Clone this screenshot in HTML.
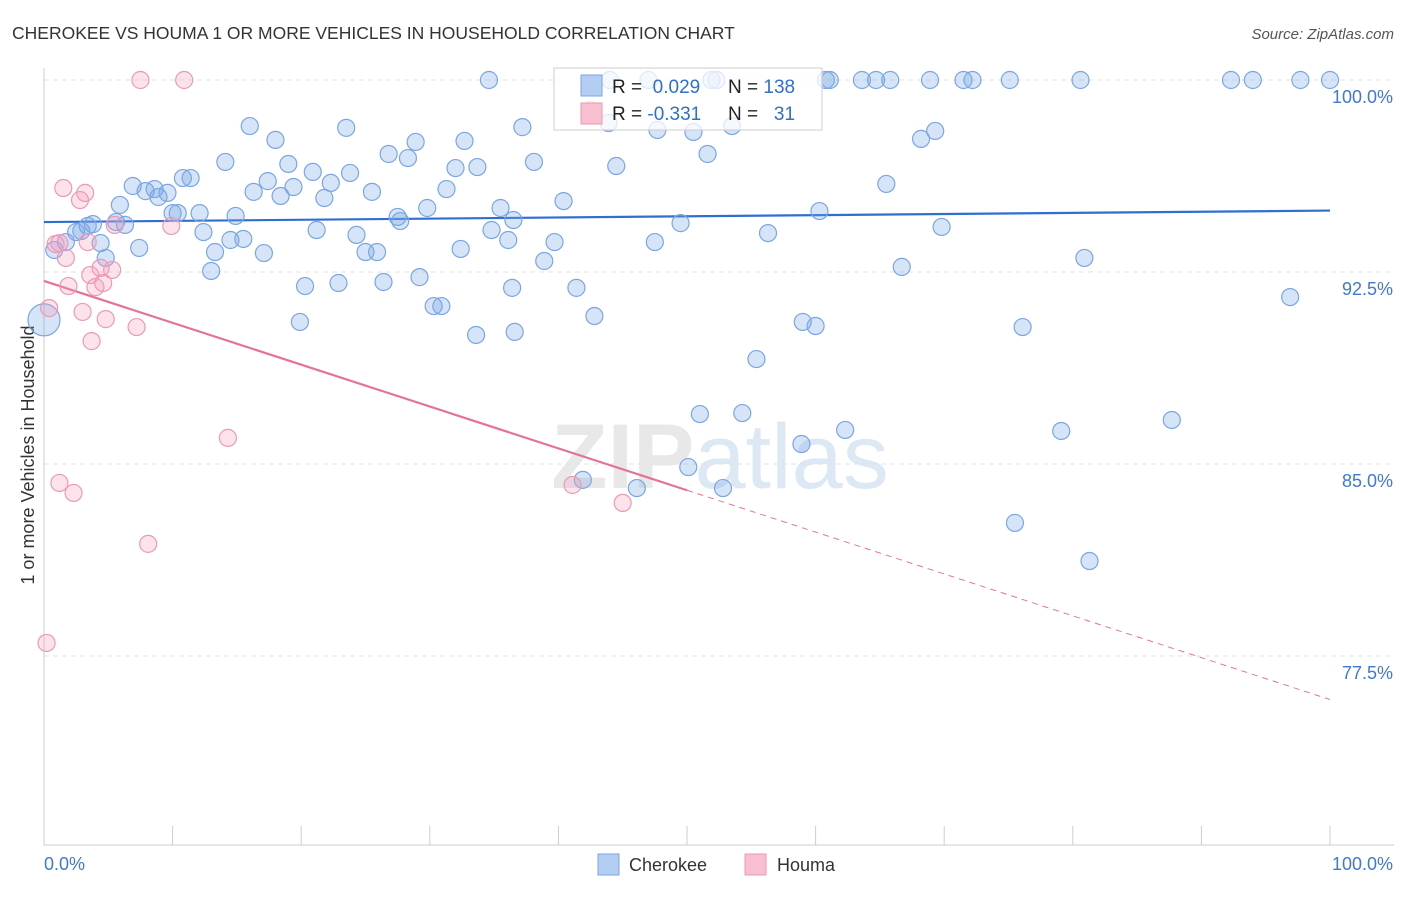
<!DOCTYPE html>
<html><head><meta charset="utf-8"><style>
body{margin:0;background:#fff;font-family:"Liberation Sans",sans-serif}
svg text{font-family:"Liberation Sans",sans-serif}
</style></head><body>
<svg id="chart" width="1406" height="892" xmlns="http://www.w3.org/2000/svg">
<text x="12" y="39" font-size="17.5" fill="#333">CHEROKEE VS HOUMA 1 OR MORE VEHICLES IN HOUSEHOLD CORRELATION CHART</text>
<text x="1394" y="39" font-size="15" fill="#555" font-style="italic" text-anchor="end">Source: ZipAtlas.com</text>
<text x="720" y="488" font-size="92" fill="#e8e8e8" text-anchor="middle" font-family="Liberation Serif" font-weight="bold">ZIP<tspan fill="#dde8f5" font-family="Liberation Sans" font-weight="normal">atlas</tspan></text>
<text transform="translate(34,455) rotate(-90)" font-size="18" fill="#333" text-anchor="middle">1 or more Vehicles in Household</text>
<g id="grid"></g><g id="axes"></g><g id="trend"></g><g id="pts"></g>
<g>
<rect x="554" y="68" width="268" height="62" fill="rgba(255,255,255,0.75)" stroke="#ccc"/>
<rect x="581" y="75" width="21" height="21" fill="#b4cdf2" stroke="#7aa6e3"/>
<rect x="581" y="103" width="21" height="21" fill="#f7bfd0" stroke="#eb9ab5"/>
<text x="612" y="93" font-size="19" fill="#222">R = <tspan fill="#2f6fd0">&#160;0.029</tspan><tspan x="728">N = </tspan><tspan fill="#2f6fd0">138</tspan></text>
<text x="612" y="120" font-size="19" fill="#222">R = <tspan fill="#2f6fd0">-0.331</tspan><tspan x="728">N = </tspan><tspan fill="#2f6fd0">&#160;&#160;31</tspan></text>
</g>
<g>
<rect x="598" y="854" width="21" height="21" fill="#b4cdf2" stroke="#7aa6e3"/>
<text x="629" y="871" font-size="18" fill="#333">Cherokee</text>
<rect x="745" y="854" width="21" height="21" fill="#f7bfd0" stroke="#eb9ab5"/>
<text x="777" y="871" font-size="18" fill="#333">Houma</text>
</g>
</svg>
<script>
const yTicks=[100,92.5,85,77.5];
const yTickLabels=["100.0%","92.5%","85.0%","77.5%"];
const blueX=[34.6,44.0,47.0,52.3,51.9,60.8,61.1,63.6,64.7,65.8,68.9,71.5,72.2,75.1,80.6,92.3,94.0,97.7,100,
16.0,23.5,37.2,18.0,28.9,32.7,47.7,50.5,43.9,53.5,69.3,68.2,14.1,19.0,20.9,23.8,26.8,28.3,32.0,33.7,38.1,44.5,51.6,
6.9,7.9,8.6,9.6,10.8,11.4,16.3,17.4,18.4,19.4,21.8,22.3,25.5,31.3,40.4,65.5,5.9,8.9,10.0,10.4,12.1,14.9,29.8,35.5,36.5,27.7,27.5,60.3,49.5,3.4,3.8,5.6,6.3,
12.4,14.5,15.5,21.2,24.3,34.8,36.1,39.7,47.5,56.3,69.8,4.4,7.4,13.3,17.1,25.0,25.9,32.4,38.9,4.8,80.9,
13.0,20.3,22.9,26.4,29.2,36.4,41.4,66.7,19.9,30.3,30.9,33.6,36.6,42.8,59.0,60.0,76.1,96.9,55.4,
51.0,54.3,87.7,62.3,58.9,79.1,50.1,41.9,46.1,52.8,75.5,81.3,0.8,1.7,2.5,2.9,0.0];
const blueY=[100,100,100,100,100,100,100,100,100,100,100,100,100,100,100,100,100,100,100,
98.20,98.13,98.16,97.66,97.58,97.62,98.05,97.97,98.32,98.20,98.01,97.70,96.80,96.72,96.41,96.37,97.11,96.95,96.56,96.60,96.80,96.64,97.11,
95.86,95.66,95.74,95.59,96.17,96.17,95.63,96.05,95.47,95.82,95.39,95.98,95.63,95.74,95.27,95.94,95.12,95.43,94.80,94.80,94.80,94.69,95.00,95.00,94.53,94.49,94.65,94.88,94.41,94.30,94.37,94.45,94.34,
94.06,93.75,93.79,94.14,93.95,94.14,93.75,93.67,93.67,94.02,94.26,93.63,93.44,93.28,93.24,93.28,93.28,93.40,92.93,93.05,93.05,
92.54,91.95,92.07,92.11,92.30,91.88,91.88,92.70,90.55,91.17,91.17,90.04,90.16,90.78,90.55,90.39,90.35,91.52,89.10,
86.95,86.99,86.72,86.33,85.78,86.29,84.88,84.38,84.06,84.06,82.70,81.21,93.36,93.67,94.06,94.10,90.63];
const pinkX=[7.5,10.9,1.5,3.2,2.8,9.9,5.5,0.9,1.2,3.4,1.7,3.6,4.4,5.3,1.9,4.0,4.6,3.0,4.8,7.2,3.7,0.4,14.3,1.2,2.3,41.1,45.0,8.1,0.2,42.5];
const pinkY=[100,100,95.78,95.59,95.31,94.30,94.34,93.59,93.63,93.67,93.05,92.38,92.66,92.58,91.95,91.91,92.07,90.94,90.66,90.35,89.80,91.09,86.02,84.26,83.87,84.18,83.48,81.88,78.01,98.83];
const blueTrend=[94.45,94.9];
const pinkTrend=[92.15,75.8];
const pinkSolidEnd=50;
const NS="http://www.w3.org/2000/svg";
const X=v=>44+v*12.86, Y=v=>80+(100-v)*25.6;
function mk(t,a,p){const e=document.createElementNS(NS,t);for(const k in a)e.setAttribute(k,a[k]);document.getElementById(p).appendChild(e);return e;}
yTicks.forEach((t,i)=>{
 const g=mk('line',{x1:44,x2:1394,y1:Y(t),y2:Y(t),stroke:'#e2e2e2','stroke-dasharray':'5,4'},'grid');
 
 
 const l=mk('text',{x:1393,y:Y(t)+23,'font-size':18,fill:'#3f78d6','text-anchor':'end'},'axes');
 l.textContent=yTickLabels[i];
 
 
});
const ax=mk('line',{x1:44,x2:44,y1:68,y2:845,stroke:'#ccc'},'axes');


const bx=mk('line',{x1:44,x2:1394,y1:845,y2:845,stroke:'#ccc'},'axes');


for(let i=0;i<=10;i++){const t=mk('line',{x1:X(i*10),x2:X(i*10),y1:826,y2:845,stroke:'#ccc'},'axes');
 
 }
[["0.0%",44,'start'],["100.0%",1393,'end']].forEach(a=>{const t=mk('text',{x:a[1],y:870,'font-size':18,fill:'#3f78d6','text-anchor':a[2]},'axes');t.textContent=a[0];
 
 });
function dot(x,y,c,s,r){const e=mk('circle',{cx:X(x),cy:Y(y),r:r,fill:c,stroke:s,'stroke-width':1.2},'pts');return e;}
blueX.forEach((x,i)=>{const e=dot(x,blueY[i],'rgba(120,165,230,0.3)','#7aa6e3',i==blueX.length-1?16:8.5);
 
 });
pinkX.forEach((x,i)=>{const e=dot(x,pinkY[i],'rgba(245,160,190,0.3)','#eb9ab5',8.5);
 
 });
const bl=mk('line',{x1:X(0),x2:X(100),y1:Y(blueTrend[0]),y2:Y(blueTrend[1]),stroke:'#2f6fd0','stroke-width':2.2},'trend');


const pm=pinkTrend[0]+(pinkTrend[1]-pinkTrend[0])*pinkSolidEnd/100;
const pl=mk('line',{x1:X(0),x2:X(pinkSolidEnd),y1:Y(pinkTrend[0]),y2:Y(pm),stroke:'#e5729b','stroke-width':2.2},'trend');


const pd=mk('line',{x1:X(pinkSolidEnd),x2:X(100),y1:Y(pm),y2:Y(pinkTrend[1]),stroke:'#e5729b','stroke-width':1,'stroke-dasharray':'6,5'},'trend');


</script>
</body></html>
